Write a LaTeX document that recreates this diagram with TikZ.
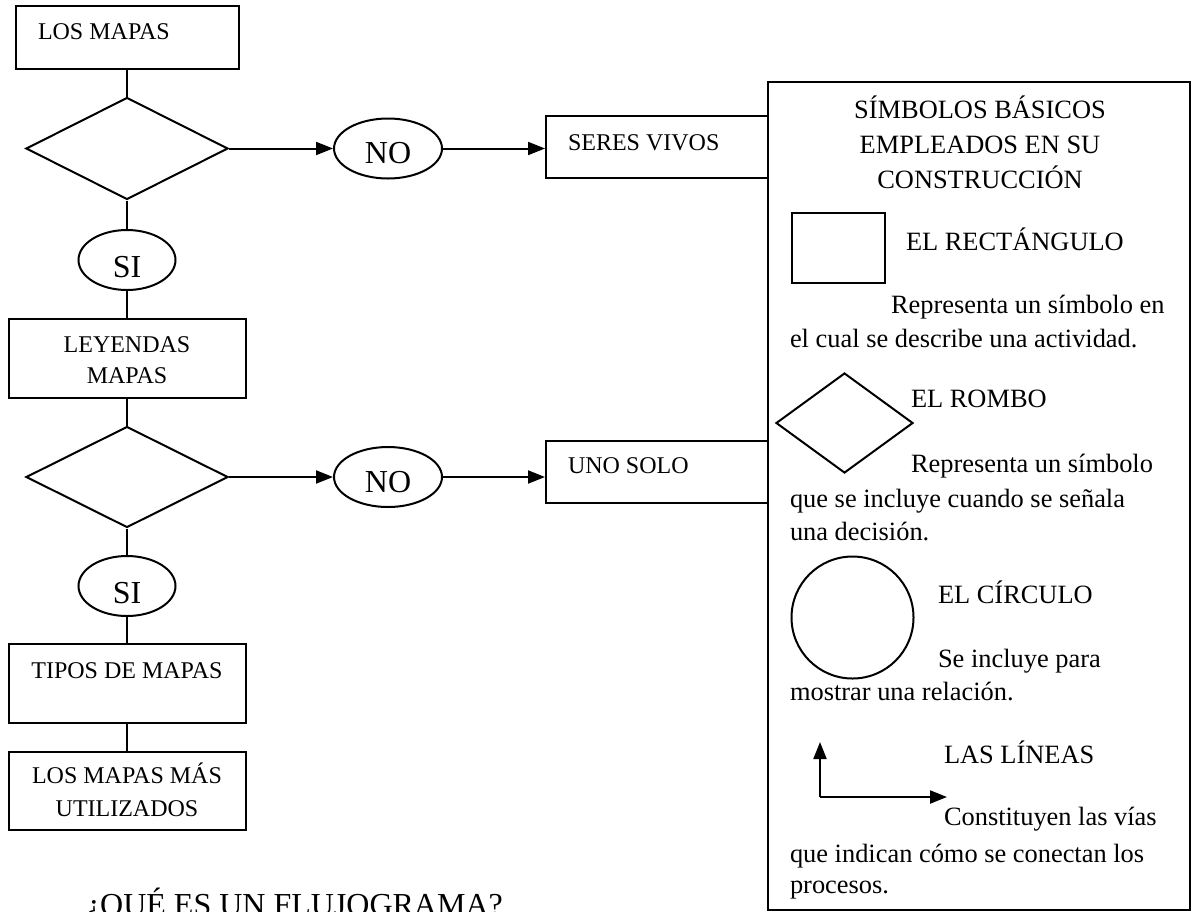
\documentclass[tikz,border=0pt]{standalone}
\usepackage{fontspec}
\setmainfont{Liberation Serif}
\usetikzlibrary{shapes.geometric,arrows.meta}
\tikzset{
	caja/.style={draw,rectangle,inner sep=0pt},
	rombo/.style={draw,diamond,inner sep=0pt,minimum width=101pt,minimum height=51pt},
	elipse/.style={draw,ellipse,inner sep=0pt,minimum width=54pt,minimum height=30pt},
	flecha/.style={-{Triangle[length=8.5pt,width=6.5pt]}},
	txt/.style={inner sep=0pt,anchor=base west,font=\fontsize{12}{14}\selectfont},
	txtc/.style={inner sep=0pt,anchor=base,font=\fontsize{12}{14}\selectfont},
	sino/.style={inner sep=0pt,anchor=base,font=\fontsize{16}{19}\selectfont},
	ptxt/.style={inner sep=0pt,anchor=base west,font=\fontsize{13.2}{16}\selectfont},
	ptxtc/.style={inner sep=0pt,anchor=base,font=\fontsize{13.2}{16}\selectfont}
}
\begin{document}
\begin{tikzpicture}[x=0.5pt,y=-0.5pt,line width=1pt]
	\useasboundingbox (0,0) rectangle (1192,911);
	%diagrama de flujo
	\node [caja,minimum width=111.5pt,minimum height=31.5pt] (mapas) at (127,37.5) {};
	\node [txt] (tmapas) at (37,39) {LOS MAPAS};
	\node [rombo] (d1) at (127,148.5) {};
	\node [elipse] (no1) at (388,148.5) {};
	\node [sino] (tno1) at (388,163.5) {NO};
	\node [caja,minimum width=111pt,minimum height=31pt] (seres) at (657,147) {};
	\node [txt] (tseres) at (567,150) {SERES VIVOS};
	\node [elipse,minimum width=48.5pt] (si1) at (127,260) {};
	\node [sino] (tsi1) at (127,277) {SI};
	\node [caja,minimum width=118.5pt,minimum height=39.5pt] (leyendas) at (127,358.5) {};
	\node [txtc] (tley1) at (127,352) {LEYENDAS};
	\node [txtc] (tley2) at (127,383) {MAPAS};
	\node [rombo,minimum height=50.5pt] (d2) at (127,477) {};
	\node [elipse] (no2) at (388,477) {};
	\node [sino] (tno2) at (388,492) {NO};
	\node [caja,minimum width=111pt,minimum height=31pt] (uno) at (657,472) {};
	\node [txt] (tuno) at (567,473) {UNO SOLO};
	\node [elipse,minimum width=48.5pt] (si2) at (127,586) {};
	\node [sino] (tsi2) at (127,603) {SI};
	\node [caja,minimum width=118.5pt,minimum height=39.5pt] (tipos) at (127,683.5) {};
	\node [txtc] (ttipos) at (127,678) {TIPOS DE MAPAS};
	\node [caja,minimum width=118.5pt,minimum height=39pt] (utiliz) at (127,791) {};
	\node [txtc] (tuti1) at (127,783) {LOS MAPAS MÁS};
	\node [txtc] (tuti2) at (127,816) {UTILIZADOS};
	\draw (mapas) -- (d1);
	\draw [flecha] (d1) -- (no1);
	\draw [flecha] (no1.east) -- (no1.east -| seres.west);
	\draw (d1) -- (si1);
	\draw (si1) -- (leyendas);
	\draw (leyendas) -- (d2);
	\draw [flecha] (d2) -- (no2);
	\draw [flecha] (no2.east) -- (no2.east -| uno.west);
	\draw (d2) -- (si2);
	\draw (si2) -- (tipos);
	\draw (tipos) -- (utiliz);
	\node [inner sep=0pt,anchor=base west,font=\fontsize{16}{19}\selectfont] (pregunta) at (85,915) {¿QUÉ ES UN FLUJOGRAMA?};
	%simbolos
	\node [caja,fill=white,minimum width=211pt,minimum height=414pt] (panel) at (979,496) {};
	\node [ptxtc] (tit1) at (980,118) {SÍMBOLOS BÁSICOS};
	\node [ptxtc] (tit2) at (980,153) {EMPLEADOS EN SU};
	\node [ptxtc] (tit3) at (980,188) {CONSTRUCCIÓN};
	\node [caja,minimum width=46.5pt,minimum height=35pt] (rect) at (838.5,248) {};
	\node [ptxt] (trect) at (905,250) {EL RECTÁNGULO};
	\node [ptxt] (drect1) at (890,313) {Representa un símbolo en};
	\node [ptxt] (drect2) at (789,347) {el cual se describe una actividad.};
	\node [draw,diamond,inner sep=0pt,minimum width=68.5pt,minimum height=50pt] (romb) at (844.5,423) {};
	\node [ptxt] (tromb) at (910,407) {EL ROMBO};
	\node [ptxt] (dromb1) at (910,472) {Representa un símbolo};
	\node [ptxt] (dromb2) at (789,507) {que se incluye cuando se señala};
	\node [ptxt] (dromb3) at (789,540) {una decisión.};
	\node [draw,circle,inner sep=0pt,minimum size=61pt] (circ) at (852.5,617.5) {};
	\node [ptxt] (tcirc) at (937,603) {EL CÍRCULO};
	\node [ptxt] (dcirc1) at (937,667) {Se incluye para};
	\node [ptxt] (dcirc2) at (789,700) {mostrar una relación.};
	\coordinate (esq) at (820,797);
	\coordinate (arr) at (820,742);
	\coordinate (der) at (947,797);
	\draw [flecha] (esq) -- (arr);
	\draw [flecha] (esq) -- (der);
	\node [ptxt] (tlin) at (943,763) {LAS LÍNEAS};
	\node [ptxt] (dlin1) at (943,825) {Constituyen las vías};
	\node [ptxt] (dlin2) at (789,862) {que indican cómo se conectan los};
	\node [ptxt] (dlin3) at (789,893) {procesos.};
\end{tikzpicture}
\end{document}
